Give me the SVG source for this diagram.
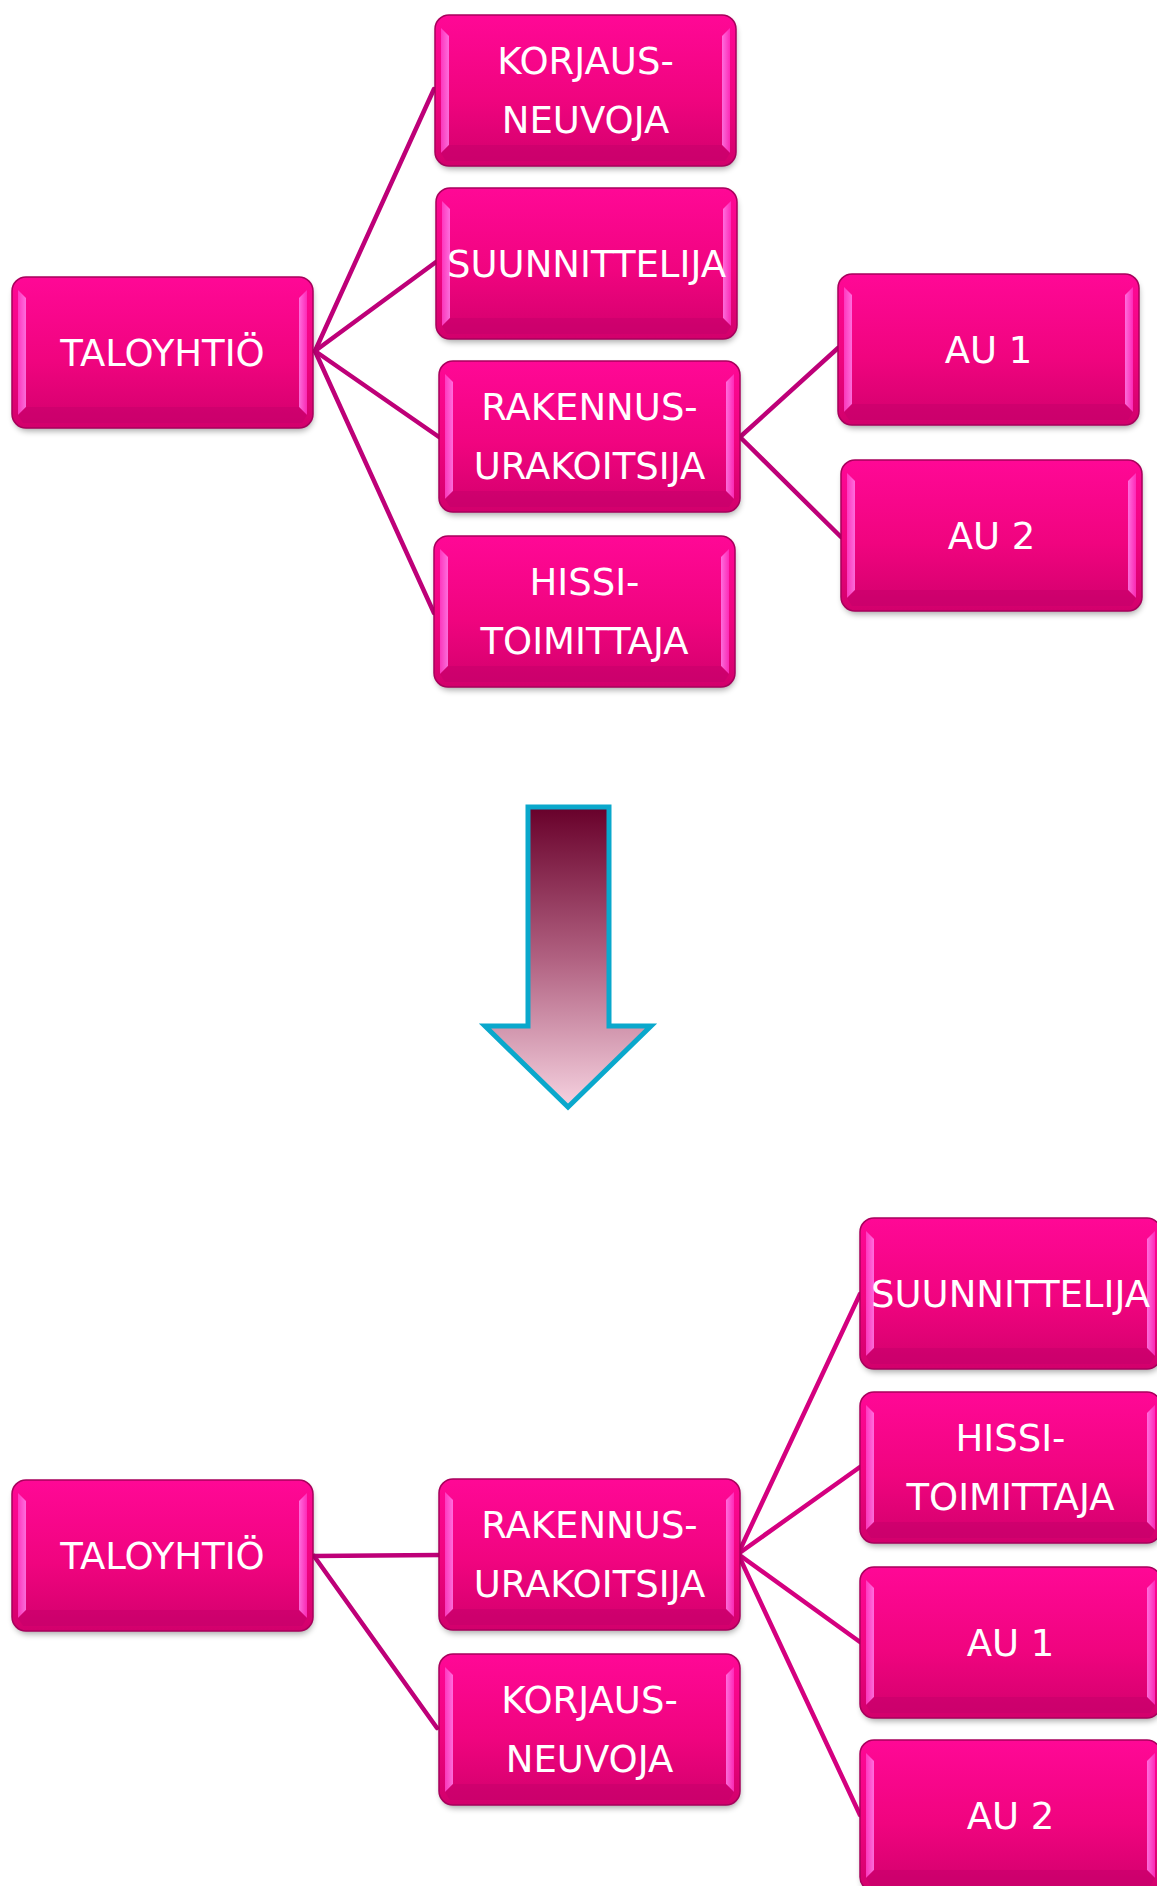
<svg xmlns="http://www.w3.org/2000/svg" xmlns:xlink="http://www.w3.org/1999/xlink" width="1157" height="1886" viewBox="0 0 1157 1886">
<style>
.lbl{font-family:"DejaVu Sans","Verdana",sans-serif;font-size:37px;fill:#ffffff;text-anchor:middle}
.con{stroke:#BE0078;stroke-width:4.5;fill:none;stroke-linecap:round}
.con2{stroke:#D4007F;stroke-width:4.5;fill:none;stroke-linecap:round}
</style>
<defs>
<linearGradient id="gFill" x1="0" y1="0" x2="0" y2="1">
<stop offset="0" stop-color="#FF0896"/>
<stop offset="0.55" stop-color="#F0047F"/>
<stop offset="1" stop-color="#D2006C"/>
</linearGradient>
<linearGradient id="gSideL" x1="0" y1="0" x2="1" y2="0">
<stop offset="0" stop-color="#FF40C8"/>
<stop offset="1" stop-color="#FF80EC"/>
</linearGradient>
<linearGradient id="gSideR" x1="0" y1="0" x2="1" y2="0">
<stop offset="0" stop-color="#FF80EC"/>
<stop offset="1" stop-color="#FF30C0"/>
</linearGradient>
<linearGradient id="gArrow" x1="0" y1="0" x2="0" y2="1">
<stop offset="0" stop-color="#68002A"/>
<stop offset="0.5" stop-color="#B06080"/>
<stop offset="1" stop-color="#F6D2E0"/>
</linearGradient>
<filter id="sh" x="-10%" y="-10%" width="120%" height="130%">
<feGaussianBlur stdDeviation="3"/>
</filter>
<g id="box">
<rect x="2" y="5" width="299" height="149" rx="14" fill="#000" opacity="0.35" filter="url(#sh)"/>
<rect x="0" y="0" width="301" height="151" rx="14" fill="url(#gFill)" stroke="#A8005C" stroke-width="1.5"/>
<polygon points="6,13 14,21 14,130 6,138" fill="url(#gSideL)" opacity="0.85"/>
<polygon points="295,13 287,21 287,130 295,138" fill="url(#gSideR)" opacity="0.85"/>
<polygon points="6,138 14,130 287,130 295,138 290,146 11,146" fill="#C0006A" opacity="0.45"/>
</g>
</defs>
<rect width="1157" height="1886" fill="#ffffff"/>

<g id="connectors">
<line class="con" x1="315" y1="351" x2="434" y2="89"/>
<line class="con" x1="315" y1="351" x2="436" y2="262"/>
<line class="con" x1="315" y1="351" x2="439" y2="437"/>
<line class="con" x1="315" y1="351" x2="434" y2="613"/>
<line class="con" x1="740" y1="437" x2="838" y2="348"/>
<line class="con" x1="740" y1="437" x2="841" y2="537"/>
<line class="con" x1="314" y1="1556" x2="439" y2="1555"/>
<line class="con" x1="314" y1="1556" x2="437" y2="1728"/>
<line class="con2" x1="738" y1="1554" x2="860" y2="1294"/>
<line class="con2" x1="738" y1="1554" x2="860" y2="1467"/>
<line class="con2" x1="738" y1="1554" x2="860" y2="1642"/>
<line class="con2" x1="738" y1="1554" x2="860" y2="1815"/>
</g>

<g id="n-taloyhtio-1"><use xlink:href="#box" x="12" y="277"/><text class="lbl" x="162.5" y="366">TALOYHTIÖ</text></g>
<g id="n-korjaus-1"><use xlink:href="#box" x="435" y="15"/><text class="lbl" x="585.5" y="74">KORJAUS-</text><text class="lbl" x="585.5" y="133">NEUVOJA</text></g>
<g id="n-suunnittelija-1"><use xlink:href="#box" x="436" y="188"/><text class="lbl" x="586.5" y="277">SUUNNITTELIJA</text></g>
<g id="n-rakennus-1"><use xlink:href="#box" x="439" y="361"/><text class="lbl" x="589.5" y="420">RAKENNUS-</text><text class="lbl" x="589.5" y="479">URAKOITSIJA</text></g>
<g id="n-hissi-1"><use xlink:href="#box" x="434" y="536"/><text class="lbl" x="584.5" y="595">HISSI-</text><text class="lbl" x="584.5" y="654">TOIMITTAJA</text></g>
<g id="n-au1-1"><use xlink:href="#box" x="838" y="274"/><text class="lbl" x="988.5" y="363">AU 1</text></g>
<g id="n-au2-1"><use xlink:href="#box" x="841" y="460"/><text class="lbl" x="991.5" y="549">AU 2</text></g>

<g id="arrow">
<polygon points="528,807 609,807 609,1026 651,1026 568,1107 485,1026 528,1026" fill="url(#gArrow)" stroke="#0AA8CC" stroke-width="5" stroke-linejoin="miter"/>
</g>

<g id="n-taloyhtio-2"><use xlink:href="#box" x="12" y="1480"/><text class="lbl" x="162.5" y="1569">TALOYHTIÖ</text></g>
<g id="n-rakennus-2"><use xlink:href="#box" x="439" y="1479"/><text class="lbl" x="589.5" y="1538">RAKENNUS-</text><text class="lbl" x="589.5" y="1597">URAKOITSIJA</text></g>
<g id="n-korjaus-2"><use xlink:href="#box" x="439" y="1654"/><text class="lbl" x="589.5" y="1713">KORJAUS-</text><text class="lbl" x="589.5" y="1772">NEUVOJA</text></g>
<g id="n-suunnittelija-2"><use xlink:href="#box" x="860" y="1218"/><text class="lbl" x="1010.5" y="1307">SUUNNITTELIJA</text></g>
<g id="n-hissi-2"><use xlink:href="#box" x="860" y="1392"/><text class="lbl" x="1010.5" y="1451">HISSI-</text><text class="lbl" x="1010.5" y="1510">TOIMITTAJA</text></g>
<g id="n-au1-2"><use xlink:href="#box" x="860" y="1567"/><text class="lbl" x="1010.5" y="1656">AU 1</text></g>
<g id="n-au2-2"><use xlink:href="#box" x="860" y="1740"/><text class="lbl" x="1010.5" y="1829">AU 2</text></g>
</svg>
